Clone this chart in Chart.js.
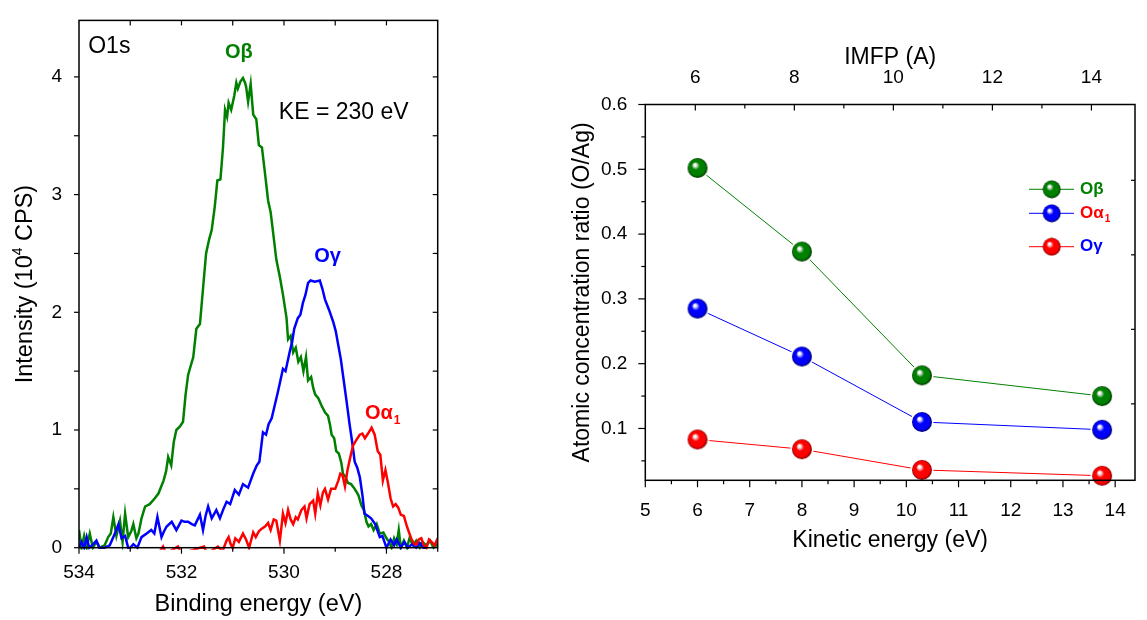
<!DOCTYPE html>
<html>
<head>
<meta charset="utf-8">
<title>O1s spectra and atomic concentration ratio</title>
<script src="https://cdn.jsdelivr.net/npm/chart.js@4.4.1/dist/chart.umd.min.js"></script>
<style>
    html, body { margin: 0; padding: 0; background: #fff; }
    #wrap { position: relative; width: 1147px; height: 620px; overflow: hidden; }
    .box { position: absolute; top: 0; }
</style>
</head>
<body>
<div id="wrap">
    <div class="box" style="left:0"><canvas id="spectra" width="470" height="620"></canvas></div>
    <div class="box" style="left:470px"><canvas id="ratio" width="677" height="620"></canvas></div>
</div>
<script>
// =========================================
// DATA
// =========================================
// O1s spectra at KE = 230 eV: [binding energy (eV), intensity (10^4 CPS)]
const oBetaSpectrum = [
    [534.00, 0.15], [533.95, 0.00], [533.90, 0.10], [533.85, 0.00], [533.79, 0.12], [533.73, 0.00],
    [533.66, 0.05], [533.60, 0.00], [533.50, 0.02], [533.43, 0.09], [533.38, 0.12], [533.33, 0.26],
    [533.27, 0.10], [533.20, 0.23], [533.15, 0.05], [533.10, 0.29], [533.04, 0.09], [532.98, 0.14],
    [532.94, 0.20], [532.88, 0.08], [532.84, 0.12], [532.78, 0.25], [532.71, 0.35], [532.62, 0.37],
    [532.52, 0.42], [532.45, 0.46], [532.35, 0.57], [532.30, 0.65], [532.26, 0.77], [532.20, 0.70],
    [532.15, 0.90], [532.10, 1.00], [532.03, 1.03], [531.97, 1.07], [531.92, 1.30], [531.87, 1.47],
    [531.77, 1.62], [531.71, 1.86], [531.64, 1.90], [531.58, 2.20], [531.52, 2.50], [531.46, 2.62],
    [531.41, 2.70], [531.35, 2.90], [531.30, 3.12], [531.24, 3.13], [531.19, 3.40], [531.15, 3.72],
    [531.11, 3.66], [531.08, 3.78], [531.03, 3.72], [530.97, 3.84], [530.93, 3.95], [530.90, 3.90],
    [530.85, 3.96], [530.80, 3.99], [530.76, 3.95], [530.74, 3.92], [530.70, 3.79], [530.65, 3.94],
    [530.60, 3.68], [530.54, 3.64], [530.49, 3.42], [530.43, 3.40], [530.37, 3.18], [530.31, 2.95],
    [530.26, 2.85], [530.21, 2.67], [530.15, 2.45], [530.08, 2.30], [530.02, 2.15], [529.95, 1.95],
    [529.92, 1.77], [529.87, 1.80], [529.82, 1.66], [529.77, 1.70], [529.72, 1.58], [529.67, 1.62],
    [529.62, 1.50], [529.57, 1.62], [529.53, 1.42], [529.47, 1.45], [529.43, 1.36], [529.39, 1.30],
    [529.33, 1.27], [529.27, 1.21], [529.20, 1.15], [529.14, 1.12], [529.10, 1.04], [529.07, 0.96],
    [529.02, 0.93], [528.98, 0.82], [528.93, 0.80], [528.88, 0.72], [528.85, 0.63], [528.80, 0.60],
    [528.75, 0.55], [528.69, 0.54], [528.62, 0.50], [528.55, 0.45], [528.49, 0.36], [528.44, 0.32],
    [528.39, 0.22], [528.35, 0.18], [528.30, 0.20], [528.25, 0.15], [528.19, 0.20], [528.13, 0.12],
    [528.06, 0.13], [528.00, 0.08], [527.95, 0.05], [527.90, 0.00], [527.85, 0.08], [527.80, 0.03],
    [527.76, 0.15], [527.72, 0.00], [527.66, 0.06], [527.60, 0.00], [527.55, 0.08], [527.48, 0.02],
    [527.42, 0.06], [527.35, 0.00], [527.30, 0.05], [527.22, 0.02], [527.15, 0.06], [527.08, 0.00],
    [527.00, 0.03]
];
const oGammaSpectrum = [
    [534.00, 0.00], [533.95, 0.05], [533.90, 0.00], [533.85, 0.09], [533.80, 0.00], [533.72, 0.03],
    [533.66, 0.06], [533.60, 0.00], [533.50, 0.00], [533.40, 0.02], [533.30, 0.12], [533.23, 0.20],
    [533.17, 0.08], [533.10, 0.10], [533.04, 0.00], [533.00, 0.00], [532.94, 0.03], [532.86, 0.00],
    [532.78, 0.09], [532.68, 0.12], [532.59, 0.15], [532.53, 0.12], [532.47, 0.26], [532.39, 0.09],
    [532.34, 0.14], [532.29, 0.18], [532.19, 0.22], [532.10, 0.15], [532.00, 0.23], [531.94, 0.22],
    [531.87, 0.22], [531.80, 0.20], [531.74, 0.19], [531.64, 0.28], [531.58, 0.15], [531.53, 0.27],
    [531.48, 0.35], [531.41, 0.25], [531.32, 0.32], [531.25, 0.25], [531.18, 0.33], [531.12, 0.39],
    [531.05, 0.37], [530.96, 0.49], [530.88, 0.45], [530.80, 0.54], [530.70, 0.51], [530.60, 0.63],
    [530.53, 0.70], [530.48, 0.73], [530.41, 0.98], [530.35, 0.96], [530.30, 1.05], [530.24, 1.10],
    [530.18, 1.21], [530.12, 1.32], [530.08, 1.40], [530.02, 1.52], [529.97, 1.50], [529.89, 1.66],
    [529.84, 1.75], [529.80, 1.86], [529.73, 1.95], [529.68, 1.98], [529.63, 2.08], [529.58, 2.15],
    [529.53, 2.25], [529.48, 2.27], [529.40, 2.26], [529.30, 2.27], [529.25, 2.20], [529.20, 2.11],
    [529.12, 2.02], [529.04, 1.92], [528.99, 1.84], [528.94, 1.72], [528.89, 1.60], [528.84, 1.44],
    [528.78, 1.25], [528.72, 1.05], [528.67, 0.90], [528.62, 0.73], [528.57, 0.68], [528.52, 0.60],
    [528.47, 0.45], [528.43, 0.29], [528.36, 0.27], [528.30, 0.25], [528.22, 0.20], [528.13, 0.09],
    [528.08, 0.10], [528.00, 0.00], [527.92, 0.07], [527.85, 0.02], [527.80, 0.07], [527.72, 0.00],
    [527.65, 0.05], [527.58, 0.00], [527.50, 0.03], [527.42, 0.00], [527.35, 0.04], [527.28, 0.00],
    [527.20, 0.00]
];
const oAlphaSpectrum = [
    [532.45, -0.05], [532.36, 0.01], [532.30, -0.05], [532.07, 0.01], [532.00, -0.05], [531.56, 0.01],
    [531.50, -0.05], [531.29, 0.01], [531.20, -0.03], [531.12, 0.06], [531.08, 0.09], [531.04, 0.03],
    [531.00, 0.00], [530.95, 0.08], [530.88, 0.05], [530.80, 0.12], [530.74, 0.07], [530.68, 0.00],
    [530.60, 0.13], [530.55, 0.09], [530.49, 0.14], [530.44, 0.16], [530.37, 0.18], [530.31, 0.21],
    [530.26, 0.15], [530.20, 0.24], [530.15, 0.23], [530.08, 0.06], [530.02, 0.29], [529.97, 0.21],
    [529.92, 0.32], [529.87, 0.24], [529.82, 0.20], [529.77, 0.26], [529.73, 0.24], [529.66, 0.32],
    [529.60, 0.35], [529.56, 0.25], [529.50, 0.37], [529.43, 0.40], [529.39, 0.29], [529.34, 0.46],
    [529.29, 0.36], [529.24, 0.47], [529.20, 0.50], [529.14, 0.41], [529.08, 0.50], [529.00, 0.50],
    [528.94, 0.57], [528.90, 0.63], [528.86, 0.62], [528.81, 0.52], [528.76, 0.66], [528.70, 0.78],
    [528.65, 0.87], [528.58, 0.92], [528.52, 0.96], [528.47, 0.97], [528.42, 0.93], [528.36, 0.97],
    [528.29, 1.02], [528.23, 0.96], [528.17, 0.82], [528.12, 0.79], [528.07, 0.57], [528.02, 0.66],
    [527.97, 0.55], [527.92, 0.42], [527.87, 0.35], [527.82, 0.37], [527.77, 0.34], [527.72, 0.28],
    [527.66, 0.27], [527.60, 0.18], [527.56, 0.13], [527.51, 0.07], [527.45, 0.03], [527.41, 0.03],
    [527.37, 0.07], [527.32, 0.08], [527.27, 0.02], [527.22, 0.00], [527.17, 0.07], [527.12, 0.05],
    [527.06, 0.02], [527.00, 0.08]
];
const bindingTicks = [534, 532, 530, 528];
const intensityTicks = [0, 1, 2, 3, 4];

// Atomic concentration ratio (O/Ag) vs kinetic energy
const kineticEnergy = [6, 8, 10.3, 13.75];
const ratioBeta = [0.502, 0.373, 0.182, 0.150];
const ratioAlpha = [0.285, 0.211, 0.110, 0.098];
const ratioGamma = [0.083, 0.068, 0.036, 0.027];
const seriesLabels = ['Oβ', 'Oα', 'Oγ'];
const seriesSubs = ['', '1', ''];
const kineticTicks = [5, 6, 7, 8, 9, 10, 11, 12, 13, 14];
const imfpTicks = [6, 8, 10, 12, 14];
const ratioTicks = [0.1, 0.2, 0.3, 0.4, 0.5, 0.6];
const rightEdgeTicks = [0.138, 0.253, 0.368, 0.483];

// =========================================
// STYLE HELPERS
// =========================================
const GREEN = '#008000', BLUE = '#0000ff', RED = '#ff0000';
const FONT = '"Liberation Sans", Arial, sans-serif';
Chart.defaults.font.family = FONT;
Chart.defaults.color = '#000';
Chart.defaults.animation = false;

function range(from, to, step) {
    const out = [];
    for (let v = from; v <= to + 1e-9; v += step) out.push(Math.round(v * 1000) / 1000);
    return out;
}

// shaded ball used as the marker
function makeBall(color, dark, r, pad) {
    const c = document.createElement('canvas');
    const size = Math.ceil(2 * (r + pad + 0.5));
    c.width = c.height = size;
    const g = c.getContext('2d');
    const cx = size / 2, cy = size / 2;
    if (pad > 0) {
        g.fillStyle = '#fff';
        g.beginPath(); g.arc(cx, cy, r + pad, 0, Math.PI * 2); g.fill();
    }
    const grad = g.createRadialGradient(cx - r * 0.3, cy - r * 0.35, 0, cx, cy, r);
    grad.addColorStop(0, '#ffffff');
    grad.addColorStop(0.14, '#f2f2f2');
    grad.addColorStop(0.4, color);
    grad.addColorStop(0.8, color);
    grad.addColorStop(1, dark);
    g.fillStyle = grad;
    g.beginPath(); g.arc(cx, cy, r, 0, Math.PI * 2); g.fill();
    return c;
}

// frame + inward/outward tick marks, Origin style
const framePlugin = {
    id: 'frame',
    afterDatasetsDraw(chart, args, opts) {
        const { ctx, chartArea: a } = chart;
        ctx.save();
        ctx.strokeStyle = '#000';
        ctx.lineWidth = 1.5;
        ctx.strokeRect(a.left, a.top, a.right - a.left, a.bottom - a.top);
        ctx.lineWidth = 1.2;
        for (const s of opts.sides) {
            const scale = chart.scales[s.scale];
            const sets = [[s.major, s.majorLen], [s.minor || [], s.minorLen]];
            for (const [list, len] of sets) {
                for (const v of list) {
                    const p = scale.getPixelForValue(v);
                    const sign = s.dir === 'out' ? 1 : -1;
                    ctx.beginPath();
                    if (s.edge === 'bottom') { ctx.moveTo(p, a.bottom); ctx.lineTo(p, a.bottom + sign * len); }
                    if (s.edge === 'top') { ctx.moveTo(p, a.top); ctx.lineTo(p, a.top - sign * len); }
                    if (s.edge === 'left') { ctx.moveTo(a.left, p); ctx.lineTo(a.left - sign * len, p); }
                    if (s.edge === 'right') { ctx.moveTo(a.right, p); ctx.lineTo(a.right + sign * len, p); }
                    ctx.stroke();
                }
            }
        }
        ctx.restore();
    }
};

// text with optional subscript
function drawLabel(ctx, text, sub, x, y, size, bold, color) {
    const w = bold ? 'bold ' : '';
    ctx.fillStyle = color;
    ctx.textBaseline = 'middle';
    ctx.textAlign = 'left';
    ctx.font = w + size + 'px ' + FONT;
    ctx.fillText(text, x, y);
    const tw = ctx.measureText(text).width;
    if (sub) {
        ctx.font = w + Math.round(size * 0.6) + 'px ' + FONT;
        ctx.fillText(sub, x + tw + 1, y + size * 0.35);
    }
}

// =========================================
// LEFT: O1s SPECTRA
// =========================================
const spectraNotes = [
    { text: 'O1s', sub: '', be: 533.82, val: 4.255, size: 23, bold: false, color: '#000', align: 'left' },
    { text: 'Oβ', sub: '', be: 530.88, val: 4.21, size: 20, bold: true, color: GREEN, align: 'center' },
    { text: 'KE = 230 eV', sub: '', be: 530.10, val: 3.70, size: 23, bold: false, color: '#000', align: 'left' },
    { text: 'Oγ', sub: '', be: 529.15, val: 2.47, size: 20, bold: true, color: BLUE, align: 'center' },
    { text: 'Oα', sub: '1', be: 528.42, val: 1.14, size: 20, bold: true, color: RED, align: 'left' }
];

const spectraText = {
    id: 'spectraText',
    afterDraw(chart) {
        const { ctx, chartArea: a, scales } = chart;
        ctx.save();
        for (const n of spectraNotes) {
            let x = scales.x.getPixelForValue(n.be);
            const y = scales.y.getPixelForValue(n.val);
            if (n.align === 'center') {
                ctx.font = (n.bold ? 'bold ' : '') + n.size + 'px ' + FONT;
                x -= ctx.measureText(n.text).width / 2;
            }
            drawLabel(ctx, n.text, n.sub, x, y, n.size, n.bold, n.color);
        }
        // y title with superscript
        ctx.translate(26, (a.top + a.bottom) / 2);
        ctx.rotate(-Math.PI / 2);
        ctx.fillStyle = '#000';
        ctx.textBaseline = 'middle';
        ctx.textAlign = 'left';
        const big = '23.5px ' + FONT, small = '14px ' + FONT;
        ctx.font = big;
        const w1 = ctx.measureText('Intensity (10').width;
        const w3 = ctx.measureText(' CPS)').width;
        ctx.font = small;
        const w2 = ctx.measureText('4').width;
        let x = -(w1 + w2 + w3) / 2;
        ctx.font = big; ctx.fillText('Intensity (10', x, 0); x += w1;
        ctx.font = small; ctx.fillText('4', x, -8); x += w2;
        ctx.font = big; ctx.fillText(' CPS)', x, 0);
        ctx.restore();
    }
};

function spectrumSet(points, color) {
    return {
        data: points.map(p => ({ x: p[0], y: p[1] })),
        borderColor: color,
        borderWidth: 2.5,
        pointRadius: 0,
        tension: 0,
        clip: { left: 0, right: 0, top: 0, bottom: 2 }
    };
}

new Chart(document.getElementById('spectra'), {
    type: 'line',
    data: {
        datasets: [
            spectrumSet(oAlphaSpectrum, RED),
            spectrumSet(oGammaSpectrum, BLUE),
            spectrumSet(oBetaSpectrum, GREEN)
        ]
    },
    options: {
        responsive: false,
        layout: { padding: { top: 15, right: 32.3, left: 0, bottom: 0 } },
        plugins: {
            legend: { display: false },
            tooltip: { enabled: false },
            frame: {
                sides: [
                    { scale: 'x', edge: 'bottom', dir: 'out', major: bindingTicks, majorLen: 6, minor: [533, 531, 529, 527], minorLen: 4 },
                    { scale: 'x', edge: 'top', dir: 'in', major: [533, 532, 531, 530, 529, 528], majorLen: 5 },
                    { scale: 'y', edge: 'left', dir: 'out', major: range(0, 4, 0.5), majorLen: 5 },
                    { scale: 'y', edge: 'right', dir: 'in', major: range(0.5, 4, 0.5), majorLen: 5 }
                ]
            }
        },
        scales: {
            x: {
                type: 'linear',
                reverse: true,
                min: 527,
                max: 534,
                afterBuildTicks: s => { s.ticks = bindingTicks.map(v => ({ value: v })); },
                afterFit: s => { s.height = 72.3; },
                grid: { display: false },
                border: { display: false },
                ticks: { font: { size: 19 }, padding: 6, maxRotation: 0 },
                title: { display: true, text: 'Binding energy (eV)', font: { size: 23.5 }, padding: { top: 0, bottom: 1 } }
            },
            y: {
                min: 0,
                max: 4.48,
                afterBuildTicks: s => { s.ticks = intensityTicks.map(v => ({ value: v })); },
                afterFit: s => { s.width = 79; },
                grid: { display: false },
                border: { display: false },
                ticks: { font: { size: 19 }, padding: 9 }
            }
        }
    },
    plugins: [framePlugin, spectraText]
});

// =========================================
// RIGHT: CONCENTRATION RATIO
// =========================================
const balls = [
    makeBall(GREEN, '#003300', 10, 1.5),
    makeBall(BLUE, '#000066', 10, 1.5),
    makeBall(RED, '#800000', 10, 1.5)
];
const legendBalls = [
    makeBall(GREEN, '#003300', 9, 0),
    makeBall(BLUE, '#000066', 9, 0),
    makeBall(RED, '#800000', 9, 0)
];
const lineColors = [GREEN, BLUE, RED];
const labelColors = [GREEN, RED, BLUE];

const ratioLegend = {
    id: 'ratioLegend',
    afterDraw(chart) {
        const { ctx } = chart;
        const rowY = [189.3, 213.3, 246.7];
        ctx.save();
        chart.data.datasets.forEach((ds, i) => {
            const y = rowY[i];
            ctx.strokeStyle = lineColors[i];
            ctx.lineWidth = 1;
            ctx.beginPath(); ctx.moveTo(559, y); ctx.lineTo(604, y); ctx.stroke();
            const b = legendBalls[i];
            ctx.drawImage(b, 581.7 - b.width / 2, y - b.height / 2);
            drawLabel(ctx, seriesLabels[i], seriesSubs[i], 610, y, 17, true, labelColors[i]);
        });
        ctx.restore();
    }
};

function ratioSet(values, i) {
    return {
        label: seriesLabels[i] + seriesSubs[i],
        data: values.map((v, k) => ({ x: kineticEnergy[k], y: v })),
        borderColor: lineColors[i],
        borderWidth: 1,
        pointStyle: balls[i],
        pointRadius: 11,
        tension: 0,
        clip: false
    };
}

new Chart(document.getElementById('ratio'), {
    type: 'line',
    data: {
        datasets: [ratioSet(ratioBeta, 0), ratioSet(ratioAlpha, 1), ratioSet(ratioGamma, 2)]
    },
    options: {
        responsive: false,
        layout: { padding: { top: 0, right: 1, left: 0, bottom: 0 } },
        plugins: {
            legend: { display: false },
            tooltip: { enabled: false },
            frame: {
                sides: [
                    { scale: 'x', edge: 'bottom', dir: 'out', major: kineticTicks, majorLen: 7, minor: range(5.5, 14, 1), minorLen: 4 },
                    { scale: 'x2', edge: 'top', dir: 'in', major: imfpTicks, majorLen: 6, minor: [7, 9, 11, 13], minorLen: 4 },
                    { scale: 'y', edge: 'left', dir: 'out', major: ratioTicks, majorLen: 7, minor: range(0.05, 0.55, 0.1), minorLen: 4 },
                    { scale: 'y', edge: 'right', dir: 'in', major: rightEdgeTicks, majorLen: 4 }
                ]
            }
        },
        scales: {
            x: {
                type: 'linear',
                position: 'bottom',
                min: 5,
                max: 14.38,
                afterBuildTicks: s => { s.ticks = kineticTicks.map(v => ({ value: v })); },
                afterFit: s => { s.height = 139.7; },
                grid: { display: false },
                border: { display: false },
                ticks: { font: { size: 19 }, padding: 10.6, maxRotation: 0 },
                title: { display: true, text: 'Kinetic energy (eV)', font: { size: 23 }, padding: { top: 0, bottom: 65.5 } }
            },
            x2: {
                type: 'linear',
                position: 'top',
                min: 4.99,
                max: 14.88,
                afterBuildTicks: s => { s.ticks = imfpTicks.map(v => ({ value: v })); },
                afterFit: s => { s.height = 104.5; },
                grid: { display: false },
                border: { display: false },
                ticks: { font: { size: 19 }, padding: 7.8, maxRotation: 0 },
                title: { display: true, text: 'IMFP (A)', font: { size: 23 }, padding: { top: 44, bottom: 0 } }
            },
            y: {
                min: 0.02,
                max: 0.6,
                afterBuildTicks: s => { s.ticks = ratioTicks.map(v => ({ value: v })); },
                afterFit: s => { s.width = 175.3; },
                grid: { display: false },
                border: { display: false },
                ticks: { font: { size: 19 }, padding: 10, callback: v => v.toFixed(1) },
                title: { display: true, text: 'Atomic concentration ratio (O/Ag)', font: { size: 23 }, padding: { top: 99.2, bottom: 0 } }
            }
        }
    },
    plugins: [framePlugin, ratioLegend]
});
</script>
</body>
</html>
